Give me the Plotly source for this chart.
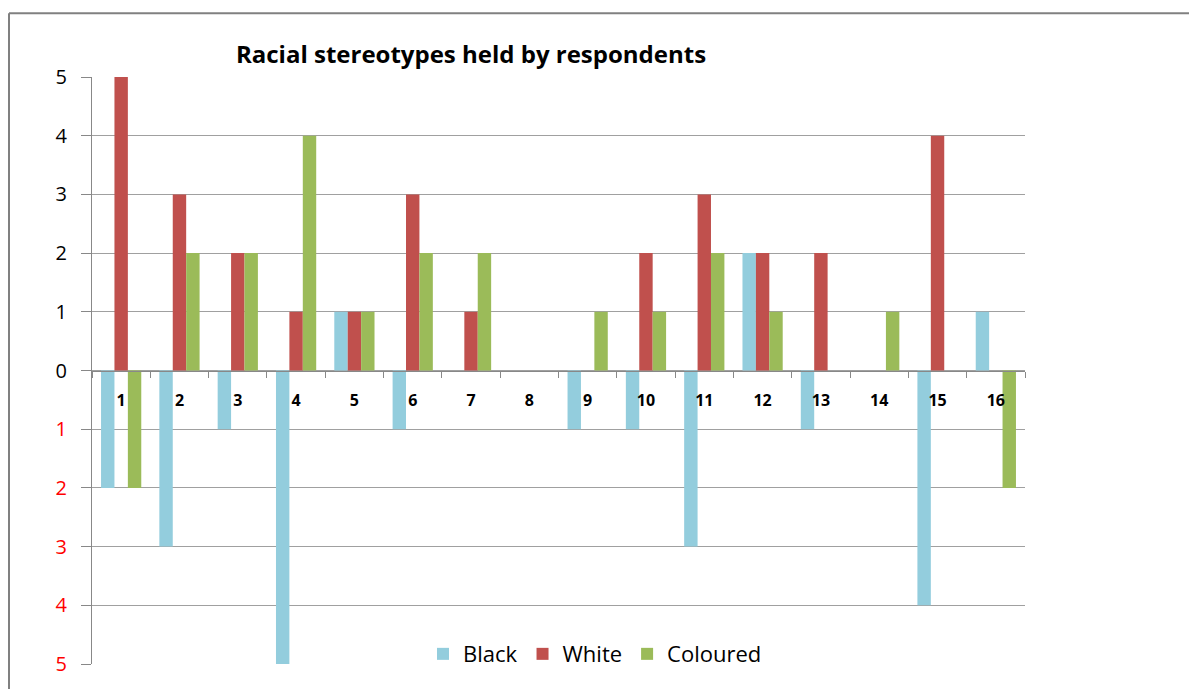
import plotly.graph_objects as go

categories = list(range(1, 17))
category_labels = [str(c) for c in categories]
black = [-2, -3, -1, -5, 1, -1, 0, 0, -1, -1, -3, 2, -1, 0, -4, 1]
white = [5, 3, 2, 1, 1, 3, 1, 0, 0, 2, 3, 2, 2, 0, 4, 0]
coloured = [-2, 2, 2, 4, 1, 2, 2, 0, 1, 1, 2, 1, 0, 1, 0, -2]
y_tick_vals = [5, 4, 3, 2, 1, 0, -1, -2, -3, -4, -5]
y_tick_labels = ["5", "4", "3", "2", "1", "0",
                 '<span style="color:#FF0000">1</span>',
                 '<span style="color:#FF0000">2</span>',
                 '<span style="color:#FF0000">3</span>',
                 '<span style="color:#FF0000">4</span>',
                 '<span style="color:#FF0000">5</span>']

# page body has an 8px margin; work in screen pixels and convert
OFF = 8
W, H = 1189, 681
L, T = 92 - OFF, 77 - OFF
R = W - (1025 - OFF)
B = H - (667 - OFF)
pw, ph = W - L - R, H - T - B

def px_x(p):
    return (p - OFF - L) / pw

def px_y(p):
    return (H - B - (p - OFF)) / ph

FONT = "Open Sans"
fig = go.Figure()
for name, vals, col in [("Black", black, "#93CDDD"),
                        ("White", white, "#C0504D"),
                        ("Coloured", coloured, "#9BBB59")]:
    fig.add_trace(go.Bar(x=categories, y=vals, name=name, marker_color=col,
                         marker_line_width=0))

boundaries = [c + 0.5 for c in [0] + categories]
# invisible trace to activate xaxis2 (tick marks between categories)
fig.add_trace(go.Scatter(x=[boundaries[0], boundaries[-1]], y=[0, 0], xaxis="x2",
                         mode="lines", line=dict(width=0), showlegend=False,
                         hoverinfo="skip"))

fig.update_layout(
    width=W, height=H,
    margin=dict(l=L, r=R, t=T, b=B),
    paper_bgcolor="white", plot_bgcolor="white",
    barmode="group", bargap=0.31, bargroupgap=0,
    font=dict(family=FONT, color="black"),
    title=dict(text="<b>Racial stereotypes held by respondents</b>",
               x=px_x(471), xref="paper", xanchor="center",
               y=1 - (55 - OFF) / H, yref="container", yanchor="middle",
               font=dict(size=24, family=FONT, color="black")),
    showlegend=True,
    legend=dict(orientation="h", x=px_x(423), xanchor="left",
                y=px_y(657), yanchor="middle",
                font=dict(size=22, family=FONT, color="black"),
                bgcolor="rgba(0,0,0,0)", itemwidth=30,
                traceorder="normal"),
    xaxis=dict(range=[0.5, 16.5], anchor="free", position=0.5,
               tickvals=categories, ticktext=["<b>%s</b>" % t for t in category_labels],
               ticks="", showgrid=False, zeroline=False, showline=False,
               tickfont=dict(size=16, family=FONT, color="black"),
               ticklabelstandoff=18, fixedrange=True),
    xaxis2=dict(range=[0.5, 16.5], overlaying="x", anchor="free", position=0.5,
                side="bottom", tickvals=boundaries, showticklabels=False,
                ticks="outside", ticklen=6, tickcolor="#888888", tickwidth=1,
                showline=True, linecolor="#888888", linewidth=1,
                showgrid=False, zeroline=False),
    yaxis=dict(range=[-5, 5], tickvals=y_tick_vals, ticktext=y_tick_labels,
               showgrid=True, gridcolor="#A0A0A0", gridwidth=1,
               zeroline=False, showline=True, linecolor="#888888", linewidth=1,
               ticks="outside", ticklen=10, tickcolor="#888888",
               tickfont=dict(size=20, family=FONT, color="black"),
               ticklabelstandoff=10),
)

# chart frame (top and left edges of the chart border)
fig.add_shape(type="line", xref="paper", yref="paper",
              x0=px_x(9), x1=px_x(W + 20), y0=px_y(13), y1=px_y(13),
              line=dict(color="#808080", width=2))
fig.add_shape(type="line", xref="paper", yref="paper",
              x0=px_x(9), x1=px_x(9), y0=px_y(13), y1=px_y(H + 20),
              line=dict(color="#808080", width=2))

fig.write_html("out.html")
